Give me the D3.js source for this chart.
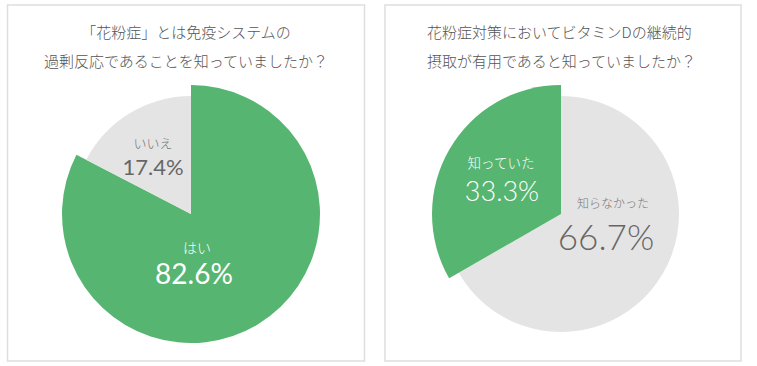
<!DOCTYPE html>
<html>
<head>
<meta charset="utf-8">
<script src="https://cdn.jsdelivr.net/npm/d3@7"></script>
<style>
  body { margin: 0; background: #fff; }
  svg { display: block; }
</style>
</head>
<body>
<svg id="chart" width="757" height="366"></svg>
<script>
// data
const titles1 = ["「花粉症」とは免疫システムの", "過剰反応であることを知っていましたか？"];
const labels1 = ["はい", "いいえ"];
const values1 = [82.6, 17.4];

const titles2 = ["花粉症対策においてビタミンDの継続的", "摂取が有用であると知っていましたか？"];
const labels2 = ["知らなかった", "知っていた"];
const values2 = [66.7, 33.3];

const green = "#56b570",
  grey = "#e4e4e4";

const svg = d3.select("#chart");
const jp = "'Noto Sans CJK JP', 'Noto Sans', sans-serif";
const num = "Lato, 'Noto Sans', sans-serif";

function panel(opt) {
  const g = svg.append("g");
  g.append("rect")
    .attr("x", opt.x0)
    .attr("y", 5)
    .attr("width", opt.w)
    .attr("height", 356)
    .attr("fill", "#fff")
    .attr("stroke", "#dedede")
    .attr("stroke-width", 1.5);

  g.selectAll(".title")
    .data(opt.titles)
    .join("text")
    .attr("class", "title")
    .attr("x", opt.tx)
    .attr("y", (d, i) => 38 + i * 29)
    .attr("text-anchor", opt.tanchor)
    .attr("font-family", jp)
    .attr("font-weight", 300)
    .attr("font-size", 15)
    .attr("fill", "#555")
    .text((d) => d);

  const pie = d3.pie().sort(null).value((d) => d);
  const arcs = pie(opt.values);

  const pg = g.append("g").attr("transform", `translate(${opt.cx},214)`);
  pg.selectAll("path")
    .data(arcs)
    .join("path")
    .attr("d", (d, i) =>
      d3.arc().innerRadius(0).outerRadius(opt.colors[i] == green ? 129 : 118)(d)
    )
    .attr("fill", (d, i) => opt.colors[i]);

  // labels
  opt.labels.forEach((lab, i) => {
    const p = opt.pos[i];
    const white = opt.colors[i] == green;
    g.append("text")
      .attr("x", p[0])
      .attr("y", p[1])
      .attr("text-anchor", "middle")
      .attr("font-family", jp)
      .attr("font-weight", 300)
      .attr("font-size", p[2])
      .attr("fill", white ? "#fff" : "#777")
      .text(lab);
    g.append("text")
      .attr("x", p[3])
      .attr("y", p[4])
      .attr("text-anchor", "middle")
      .attr("font-family", num)
      .attr("font-weight", opt.numWeight)
      .attr("font-size", p[5])
      .attr("fill", white ? "#fff" : "#666")
      .text(opt.values[i] + "%");
  });
}

panel({
  x0: 7.5, w: 357, tx: 186, tanchor: "middle", titles: titles1,
  cx: 191, values: values1, labels: labels1, colors: [green, grey], numWeight: 400,
  pos: [
    [197, 253, 14, 194, 284, 28],
    [153, 148, 13, 153, 175, 22]
  ]
});

panel({
  x0: 385, w: 356, tx: 427, tanchor: "start", titles: titles2,
  cx: 561, values: values2, labels: labels2, colors: [grey, green], numWeight: 300,
  pos: [
    [613, 208, 12, 606, 250, 35],
    [501, 168, 13.5, 502, 201, 27]
  ]
});
</script>
</body>
</html>
